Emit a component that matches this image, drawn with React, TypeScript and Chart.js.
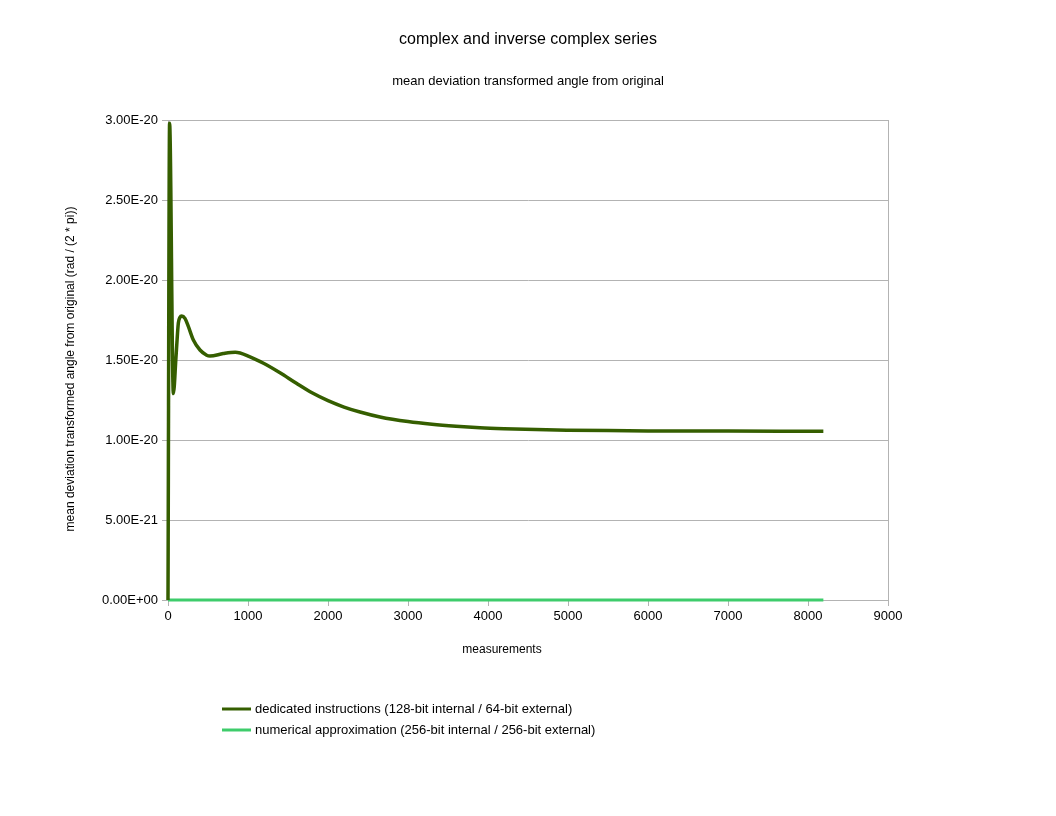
import React, { useEffect, useRef } from "react";
import { Chart, registerables } from "chart.js";

Chart.register(...registerables);

const TITLE = "complex and inverse complex series";
const SUBTITLE = "mean deviation transformed angle from original";
const X_TITLE = "measurements";
const Y_TITLE = "mean deviation transformed angle from original (rad / (2 * pi))";

const SERIES_NAMES = [
  "dedicated instructions (128-bit internal / 64-bit external)",
  "numerical approximation (256-bit internal / 256-bit external)",
];

const dedicatedX = [0, 20, 67, 100, 129, 150, 171, 212, 254, 317, 400, 483, 525, 690, 840, 1025, 1200, 1400, 1600, 1800, 2000, 2200, 2400, 2650, 3000, 3300, 3600, 3900, 4200, 4600, 5000, 5500, 6000, 7000, 8192];
const dedicatedY = [0, 2.98e-20, 1.29e-20, 1.52e-20, 1.73e-20, 1.767e-20, 1.775e-20, 1.76e-20, 1.71e-20, 1.625e-20, 1.5625e-20, 1.53e-20, 1.525e-20, 1.54e-20, 1.548e-20, 1.52e-20, 1.478e-20, 1.42e-20, 1.356e-20, 1.295e-20, 1.246e-20, 1.206e-20, 1.175e-20, 1.144e-20, 1.115e-20, 1.098e-20, 1.086e-20, 1.077e-20, 1.071e-20, 1.065e-20, 1.0615e-20, 1.0587e-20, 1.057e-20, 1.0557e-20, 1.0552e-20];

const numericalX = [0, 1000, 2000, 3000, 4000, 5000, 6000, 7000, 8192];
const numericalY = [0, 0, 0, 0, 0, 0, 0, 0, 0];

const COLORS = ["#355e00", "#3ecc6b"];

function fmtExp(v: number): string {
  if (v === 0) return "0.00E+00";
  const s = v.toExponential(2);
  const [m, e] = s.split("e");
  const sign = e[0] === "-" ? "-" : "+";
  const digits = e.replace(/[+-]/, "").padStart(2, "0");
  return `${m}E${sign}${digits}`;
}

const decorPlugin = {
  id: "decor",
  afterDraw(chart: any) {
    const { ctx, chartArea } = chart;
    ctx.save();
    ctx.strokeStyle = "#b3b3b3";
    ctx.lineWidth = 1;
    ctx.beginPath();
    ctx.moveTo(chartArea.left, chartArea.top + 0.5);
    ctx.lineTo(chartArea.right + 0.5, chartArea.top + 0.5);
    ctx.lineTo(chartArea.right + 0.5, chartArea.bottom);
    ctx.stroke();

    ctx.fillStyle = "#000";
    ctx.font = "12px 'Liberation Sans', Arial, sans-serif";
    ctx.textAlign = "center";
    ctx.textBaseline = "middle";
    ctx.fillText(X_TITLE, 502, 650);

    ctx.save();
    ctx.translate(71, 369);
    ctx.rotate(-Math.PI / 2);
    ctx.fillText(Y_TITLE, 0, 0);
    ctx.restore();

    ctx.font = "13px 'Liberation Sans', Arial, sans-serif";
    ctx.textAlign = "left";
    chart.data.datasets.forEach((ds: any, i: number) => {
      const y = 709 + i * 21;
      ctx.strokeStyle = ds.borderColor;
      ctx.lineWidth = 3;
      ctx.beginPath();
      ctx.moveTo(222, y);
      ctx.lineTo(251, y);
      ctx.stroke();
      ctx.fillStyle = "#000";
      ctx.fillText(ds.label, 255, y);
    });
    ctx.restore();
  },
};

export default function App() {
  const ref = useRef<HTMLCanvasElement | null>(null);

  useEffect(() => {
    if (!ref.current) return;
    const font = { family: "'Liberation Sans', Arial, sans-serif" };
    const chart = new Chart(ref.current, {
      type: "line",
      data: {
        datasets: [
          {
            label: SERIES_NAMES[0],
            data: dedicatedX.map((x, i) => ({ x, y: dedicatedY[i] })),
            borderColor: COLORS[0],
            backgroundColor: COLORS[0],
            borderWidth: 3.5,
            pointRadius: 0,
            cubicInterpolationMode: "monotone",
            fill: false,
            clip: false,
          },
          {
            label: SERIES_NAMES[1],
            data: numericalX.map((x, i) => ({ x, y: numericalY[i] })),
            borderColor: COLORS[1],
            backgroundColor: COLORS[1],
            borderWidth: 3,
            pointRadius: 0,
            fill: false,
            clip: false,
          },
        ],
      },
      options: {
        animation: false,
        responsive: false,
        devicePixelRatio: 1,
        layout: { padding: 0 },
        plugins: {
          legend: { display: false },
          tooltip: { enabled: false },
          title: {
            display: true,
            text: TITLE,
            color: "#000",
            font: { ...font, size: 16, weight: "normal" },
            padding: { top: 29.7, bottom: 0 },
          },
          subtitle: {
            display: true,
            text: SUBTITLE,
            color: "#000",
            font: { ...font, size: 13, weight: "normal" },
            padding: { top: 24.8, bottom: 30.7 },
          },
        },
        scales: {
          x: {
            type: "linear",
            min: 0,
            max: 9000,
            afterFit(scale: any) {
              scale.height = 216;
            },
            ticks: {
              stepSize: 1000,
              color: "#000",
              font: { ...font, size: 13 },
              padding: 3,
              maxRotation: 0,
              callback: (v: any) => String(v),
            },
            grid: {
              drawOnChartArea: false,
              tickLength: 6,
              color: "#b3b3b3",
            },
            border: { color: "#b3b3b3" },
          },
          y: {
            type: "linear",
            min: 0,
            max: 3e-20,
            afterFit(scale: any) {
              scale.width = 168;
            },
            ticks: {
              stepSize: 5e-21,
              color: "#000",
              font: { ...font, size: 13 },
              padding: 4,
              callback: (v: any) => fmtExp(Number(v)),
            },
            grid: {
              color: "#b3b3b3",
              tickLength: 6,
            },
            border: { color: "#b3b3b3" },
          },
          yRight: {
            type: "linear",
            position: "right",
            min: 0,
            max: 3e-20,
            afterFit(scale: any) {
              scale.width = 168;
            },
            ticks: { display: false },
            grid: { drawOnChartArea: false, drawTicks: false },
            border: { color: "#b3b3b3" },
          },
        },
      },
      plugins: [decorPlugin],
    } as any);
    return () => chart.destroy();
  }, []);

  return (
    <div style={{ position: "absolute", left: 0, top: 0, width: 1056, height: 816, background: "#fff" }}>
      <canvas ref={ref} width={1056} height={816} style={{ width: 1056, height: 816 }} />
    </div>
  );
}
